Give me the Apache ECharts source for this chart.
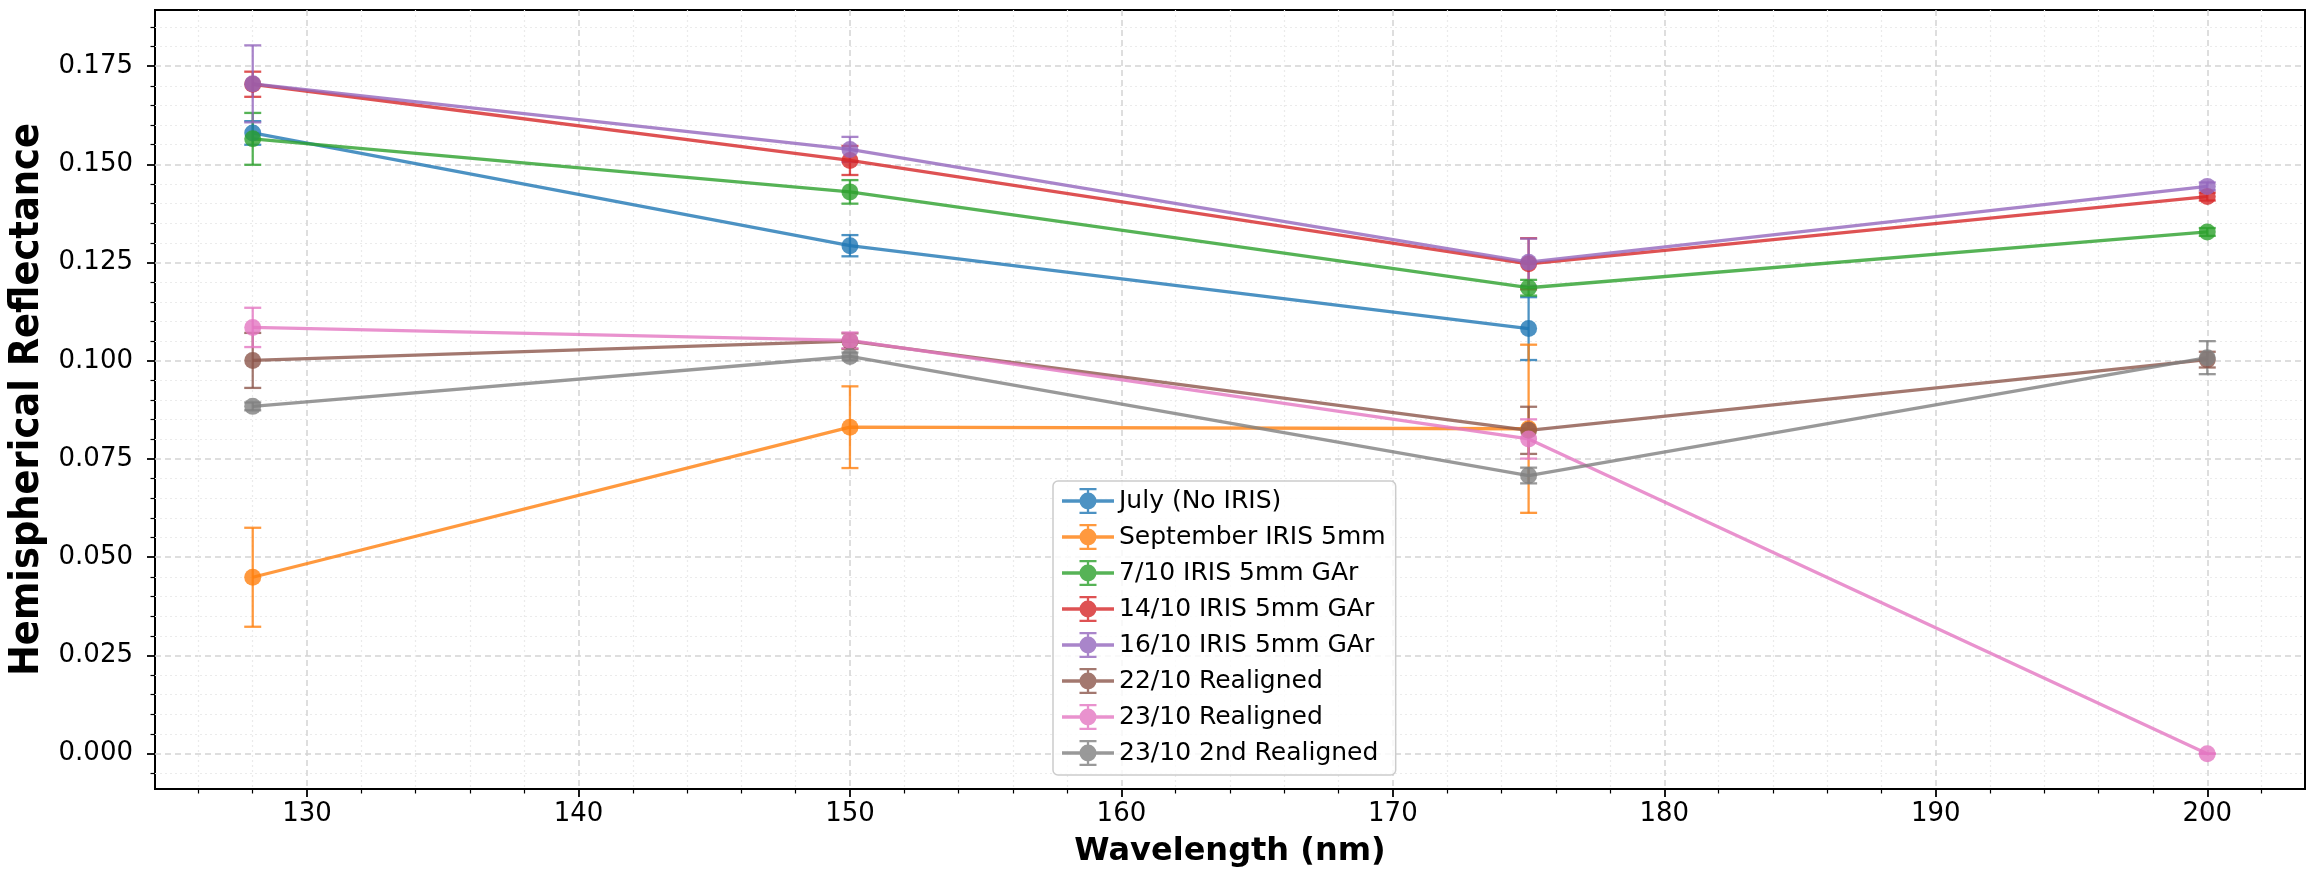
<!DOCTYPE html>
<html>
<head>
<meta charset="utf-8">
<title>Hemispherical Reflectance</title>
<script src="https://cdn.jsdelivr.net/npm/echarts@6.0.0/dist/echarts.min.js"></script>
<style>
    html, body { margin: 0; padding: 0; background: #fff; }
    #chart { width: 2310px; height: 878px; }
</style>
</head>
<body>
<div id="chart"></div>
<script>
// wavelengths measured (nm)
const wavelengths = [128, 150, 175, 200];

// tick labels
const xMajorTicks = [130, 140, 150, 160, 170, 180, 190, 200];
const yMajorTicks = [0, 0.025, 0.05, 0.075, 0.1, 0.125, 0.15, 0.175];

const seriesNames = [
    'July (No IRIS)',
    'September IRIS 5mm',
    '7/10 IRIS 5mm GAr',
    '14/10 IRIS 5mm GAr',
    '16/10 IRIS 5mm GAr',
    '22/10 Realigned',
    '23/10 Realigned',
    '23/10 2nd Realigned'
];

// tab10 at alpha 0.8
const seriesColors = [
    'rgba(31,119,180,0.8)',
    'rgba(255,127,14,0.8)',
    'rgba(44,160,44,0.8)',
    'rgba(214,39,40,0.8)',
    'rgba(148,103,189,0.8)',
    'rgba(140,86,75,0.8)',
    'rgba(227,119,194,0.8)',
    'rgba(127,127,127,0.8)'
];

// reflectance values (null = not measured)
const julyValues = [0.1580, 0.1293, 0.1082, null];
const septValues = [0.0449, 0.0831, 0.0827, null];
const oct7Values = [0.1565, 0.1430, 0.1186, 0.1328];
const oct14Values = [0.1704, 0.1510, 0.1247, 0.1418];
const oct16Values = [0.1705, 0.1538, 0.1251, 0.1444];
const oct22Values = [0.1001, 0.1050, 0.0823, 0.1003];
const oct23Values = [0.1085, 0.1052, 0.0801, 0.0000];
const oct23bValues = [0.0884, 0.1011, 0.0708, 0.1008];

// standard deviations
const julyErrors = [0.0030, 0.0027, 0.0080, null];
const septErrors = [0.0126, 0.0104, 0.0214, null];
const oct7Errors = [0.0066, 0.0030, 0.0020, 0.0010];
const oct14Errors = [0.0032, 0.0037, 0.0065, 0.0010];
const oct16Errors = [0.0098, 0.0032, 0.0060, 0.0010];
const oct22Errors = [0.0070, 0.0020, 0.0060, 0.0020];
const oct23Errors = [0.0050, 0.0020, 0.0050, 0.0000];
const oct23bErrors = [0.0010, 0.0010, 0.0020, 0.0042];

const seriesValues = [julyValues, septValues, oct7Values, oct14Values, oct16Values, oct22Values, oct23Values, oct23bValues];
const seriesErrors = [julyErrors, septErrors, oct7Errors, oct14Errors, oct16Errors, oct22Errors, oct23Errors, oct23bErrors];

const xMin = 124.4, xMax = 203.6;
const yMin = -0.009, yMax = 0.1893;

function minorTicks(start, end, step, major) {
    const out = [];
    for (let i = 0; start + i * step <= end + 1e-9; i++) {
        const v = +(start + i * step).toFixed(4);
        if (!major.some(m => Math.abs(m - v) < 1e-9)) out.push(v);
    }
    return out;
}
const xMinorTicks = minorTicks(126, 202, 2, xMajorTicks);
const yMinorTicks = minorTicks(-0.005, 0.185, 0.005, yMajorTicks);

const tickFont = { fontFamily: 'DejaVu Sans', fontSize: 26, color: '#000' };
const tickLine = { color: '#000', width: 1.8 };
const minorTickLine = { color: '#000', width: 1.2 };
const majorGrid = { color: '#d4d4d4', width: 1.5, type: [6, 4] };
const minorGrid = { color: '#ebebeb', width: 1.2, type: [2, 3] };

// legend handle: line + marker + error bar with caps
const errorbarIcon = 'path://M0,11.35 H52 V14.65 H0 Z M24.85,1 H27.15 V25 H24.85 Z ' +
    'M17.5,0 H34.5 V2.3 H17.5 Z M17.5,23.7 H34.5 V26 H17.5 Z ' +
    'M17.5,13 A8.5,8.5 0 1 1 34.5,13 A8.5,8.5 0 1 1 17.5,13 Z';

function renderErrorBar(params, api) {
    const x = api.value(0);
    const y = api.value(1);
    const e = api.value(2);
    const top = api.coord([x, y + e]);
    const bot = api.coord([x, y - e]);
    const half = 8.5;
    const style = { stroke: api.visual('color'), lineWidth: 2.3, fill: null };
    return {
        type: 'group',
        children: [
            { type: 'line', shape: { x1: top[0], y1: top[1], x2: bot[0], y2: bot[1] }, style: style },
            { type: 'line', shape: { x1: top[0] - half, y1: top[1], x2: top[0] + half, y2: top[1] }, style: style },
            { type: 'line', shape: { x1: bot[0] - half, y1: bot[1], x2: bot[0] + half, y2: bot[1] }, style: style }
        ]
    };
}

const series = [];
seriesNames.forEach((name, index) => {
    const color = seriesColors[index];
    const points = [];
    const bars = [];
    wavelengths.forEach((w, i) => {
        const v = seriesValues[index][i];
        if (v === null) return;
        points.push([w, v]);
        bars.push([w, v, seriesErrors[index][i]]);
    });
    series.push({
        name: name + ' error',
        type: 'custom',
        xAxisIndex: 0,
        yAxisIndex: 0,
        z: 2,
        itemStyle: { color: color },
        renderItem: renderErrorBar,
        encode: { x: 0, y: 1 },
        silent: true,
        data: bars
    });
    series.push({
        name: name,
        type: 'line',
        xAxisIndex: 0,
        yAxisIndex: 0,
        z: 3,
        color: color,
        symbol: 'circle',
        symbolSize: 17,
        lineStyle: { color: color, width: 3.3 },
        itemStyle: { color: color, borderWidth: 0 },
        emphasis: { disabled: true },
        data: points
    });
});

const chart = echarts.init(document.getElementById('chart'));
chart.setOption({
    animation: false,
    backgroundColor: '#fff',
    grid: {
        left: 155,
        right: 5,
        top: 10,
        bottom: 89,
        show: true,
        borderColor: '#000',
        borderWidth: 2,
        backgroundColor: 'transparent',
        outerBoundsMode: 'none'
    },
    legend: {
        data: seriesNames,
        orient: 'vertical',
        left: 1053,
        top: 481,
        padding: [7, 10, 9, 9],
        icon: errorbarIcon,
        itemWidth: 52,
        itemHeight: 26,
        itemGap: 10,
        itemTextGap: 18,
        itemStyle: { borderWidth: 0 },
        backgroundColor: 'rgba(255,255,255,0.8)',
        borderColor: '#cccccc',
        borderWidth: 1.5,
        borderRadius: 5,
        selectedMode: false,
        textStyle: { fontFamily: 'DejaVu Sans', fontSize: 25, color: '#000' }
    },
    xAxis: [
        {
            type: 'value',
            min: xMin,
            max: xMax,
            position: 'bottom',
            name: 'Wavelength (nm)',
            nameLocation: 'middle',
            nameGap: 47,
            nameTextStyle: { fontFamily: 'DejaVu Sans', fontWeight: 'bold', fontSize: 32, color: '#000' },
            axisLine: { show: false, onZero: false },
            axisTick: { show: true, customValues: xMajorTicks, length: 8, lineStyle: tickLine },
            axisLabel: Object.assign({ customValues: xMajorTicks, margin: 12 }, tickFont),
            splitLine: { show: true, lineStyle: majorGrid }
        },
        {
            type: 'value',
            min: xMin,
            max: xMax,
            position: 'bottom',
            axisLine: { show: false, onZero: false },
            axisTick: { show: true, customValues: xMinorTicks, length: 4.5, lineStyle: minorTickLine },
            axisLabel: { show: false },
            splitLine: { show: true, lineStyle: minorGrid }
        }
    ],
    yAxis: [
        {
            type: 'value',
            min: yMin,
            max: yMax,
            position: 'left',
            name: 'Hemispherical Reflectance',
            nameLocation: 'middle',
            nameGap: 102,
            nameTextStyle: {
                fontFamily: '"DejaVu Sans Condensed", "Liberation Sans Narrow", "DejaVu Sans"',
                fontWeight: 'bold',
                fontSize: 41,
                color: '#000'
            },
            axisLine: { show: false, onZero: false },
            axisTick: { show: true, customValues: yMajorTicks, length: 8, lineStyle: tickLine },
            axisLabel: Object.assign({
                customValues: yMajorTicks,
                margin: 22,
                formatter: v => v.toFixed(3)
            }, tickFont),
            splitLine: { show: true, lineStyle: majorGrid }
        },
        {
            type: 'value',
            min: yMin,
            max: yMax,
            position: 'left',
            axisLine: { show: false, onZero: false },
            axisTick: { show: true, customValues: yMinorTicks, length: 4.5, lineStyle: minorTickLine },
            axisLabel: { show: false },
            splitLine: { show: true, lineStyle: minorGrid }
        }
    ],
    series: series
});
</script>
</body>
</html>
